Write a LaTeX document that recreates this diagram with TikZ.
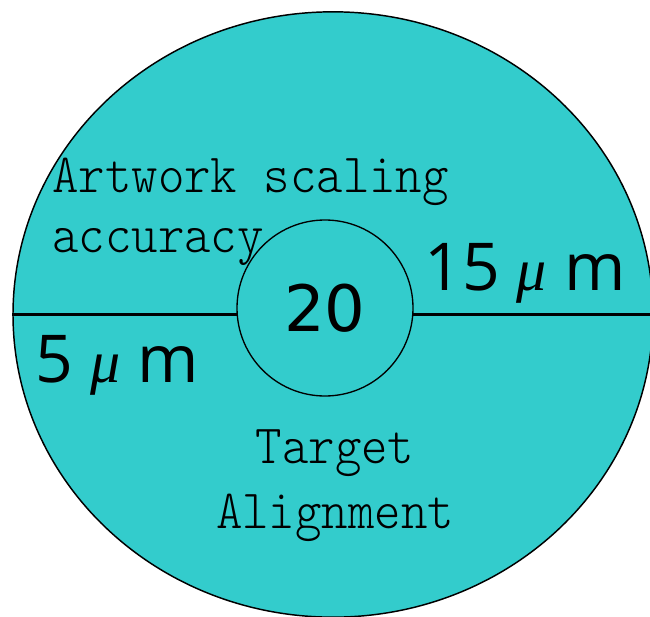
\documentclass[tikz,border=0pt]{standalone}
\usepackage{fontspec}
\setsansfont{DejaVu Sans}
\newfontfamily\monotext{lmmonolt10-regular}[Extension=.otf,FakeStretch=0.91]
\newfontfamily\greektext{Liberation Serif}
\newfontfamily\unittext{Open Sans}
\usetikzlibrary{shapes.geometric}
\definecolor{waferCyan}{HTML}{33CCCC}
\newcommand{\micro}{{\greektext\itshape\fontsize{45}{45}\selectfont μ}}

\begin{document}
\begin{tikzpicture}[x=0.75pt,y=-0.75pt,
  note/.style={font=\monotext\fontsize{41.5}{45}\selectfont,inner sep=0pt},
  value/.style={font=\sffamily\fontsize{48}{56}\selectfont,inner sep=0pt},
  unit/.style={font=\unittext\fontsize{49.5}{56}\selectfont,inner sep=0pt},
  split/.style={draw=black,line width=2.2pt}]
  \useasboundingbox (0,0) rectangle (650,617);
  % wafer and the target zone in the middle
  \node[ellipse,draw,line width=1.1pt,fill=waferCyan,inner sep=0pt,
        minimum width=480pt,minimum height=454pt] (wafer) at (333,314.5) {};
  \draw[split] (wafer.west) -- (wafer.west -| 237,0) coordinate (cutL);
  \draw[split] (wafer.east) -- (wafer.east -| 413,0) coordinate (cutR);
  \node[circle,draw,line width=1pt,fill=waferCyan,minimum size=132pt,
        value] (core) at (325,308) {20};
  % labels (base = last line)
  \node[note,anchor=base west,align=left] (scaling) at (52,252)
    {Artwork scaling\\[0pt]accuracy};
  \node[note,anchor=base,align=center,font=\monotext\fontsize{41.5}{48.75}\selectfont]
    (target) at (335,528) {Target\\Alignment};
  \node[unit,anchor=base west] (left) at (35,382) {5 \micro{} m};
  \node[unit,anchor=base west] (right) at (424,290) {15 \micro{} m};
\end{tikzpicture}
\end{document}
